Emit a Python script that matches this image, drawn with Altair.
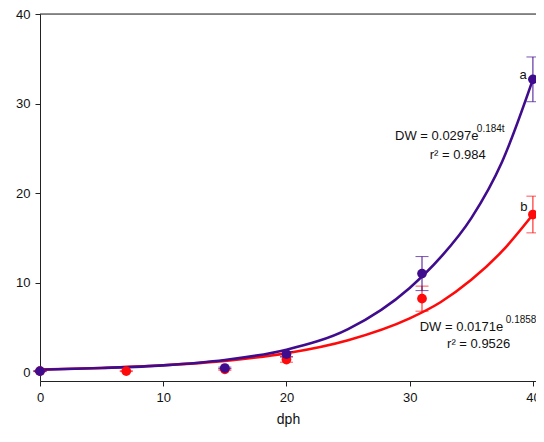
import altair as alt
import pandas as pd

FONT = "Liberation Sans"
PURPLE = "#400C8E"
RED = "#FF0A0A"

# measured points
purple_days = [0, 15, 20, 31, 40]
purple_dw = [0.1, 0.45, 2.0, 11.0, 32.7]
purple_err = [0.05, 0.1, 0.3, 1.9, 2.5]

red_days = [0, 7, 15, 20, 31, 40]
red_dw = [0.1, 0.1, 0.3, 1.4, 8.2, 17.6]
red_err = [0.05, 0.05, 0.1, 0.3, 1.4, 2.05]

# fitted curves
curve_t = [0, 5, 10, 15, 20, 25, 30, 32.5, 35, 37.5, 40]
purple_curve = [0.25, 0.45, 0.75, 1.35, 2.5, 4.8, 9.4, 12.8, 17.2, 23.5, 32.7]
red_curve = [0.28, 0.46, 0.76, 1.25, 2.1, 3.56, 6.0, 7.8, 10.3, 13.5, 17.6]

x_ticks = [0, 10, 20, 30, 40]
y_ticks = [0, 10, 20, 30, 40]

# annotations
main_labels = ["DW = 0.0297e", "r² = 0.984", "DW = 0.0171e", "r² = 0.9526"]
main_t = [32.2, 33.9, 34.2, 35.6]
main_v = [26.4, 24.2, 5.0, 3.1]
sup_labels = ["0.184t", "0.1858"]
sup_t = [35.45, 37.8]
sup_v = [27.2, 5.8]
letter_labels = ["a", "b"]
letter_t = [39.5, 39.55]
letter_v = [33.2, 18.4]

pdf = pd.DataFrame({"t": purple_days, "v": purple_dw, "lo": [a - b for a, b in zip(purple_dw, purple_err)],
                    "hi": [a + b for a, b in zip(purple_dw, purple_err)]})
rdf = pd.DataFrame({"t": red_days, "v": red_dw, "lo": [a - b for a, b in zip(red_dw, red_err)],
                    "hi": [a + b for a, b in zip(red_dw, red_err)]})
pc = pd.DataFrame({"t": curve_t, "v": purple_curve})
rc = pd.DataFrame({"t": curve_t, "v": red_curve})
mdf = pd.DataFrame({"t": main_t, "v": main_v, "label": main_labels})
sdf = pd.DataFrame({"t": sup_t, "v": sup_v, "label": sup_labels})
ldf = pd.DataFrame({"t": letter_t, "v": letter_v, "label": letter_labels})

xs = alt.Scale(domain=[0, 40.25], nice=False, zero=False)
ys = alt.Scale(domain=[-1, 40], nice=False, zero=False)

X = alt.X("t:Q", scale=xs, title="dph",
          axis=alt.Axis(values=x_ticks, grid=False, tickSize=5, labelPadding=5,
                        labelFontSize=13, titleFontSize=14, titlePadding=8,
                        labelFont=FONT, titleFont=FONT, titleFontWeight="normal",
                        domainColor="#222", tickColor="#222", labelColor="#111",
                        titleColor="#111", labelFlush=False))
Y = alt.Y("v:Q", scale=ys, title=None,
          axis=alt.Axis(values=y_ticks, grid=False, tickSize=5, labelPadding=5,
                        labelFontSize=13, labelFont=FONT, domainColor="#222",
                        tickColor="#222", labelColor="#111"))


def layers(df, curve, color):
    line = alt.Chart(curve).mark_line(color=color, strokeWidth=2.6, interpolate="monotone").encode(x=X, y=Y)
    err = alt.Chart(df).mark_rule(color=color, strokeWidth=1).encode(x="t:Q", y="lo:Q", y2="hi:Q")
    cap_lo = alt.Chart(df).mark_tick(color=color, orient="horizontal", size=13, thickness=1).encode(x="t:Q", y="lo:Q")
    cap_hi = alt.Chart(df).mark_tick(color=color, orient="horizontal", size=13, thickness=1).encode(x="t:Q", y="hi:Q")
    pts = alt.Chart(df).mark_circle(color=color, size=95, opacity=1).encode(x="t:Q", y="v:Q")
    return [line, err, cap_lo, cap_hi, pts]


top = alt.Chart(pd.DataFrame({"v": [40]})).mark_rule(color="#222", strokeWidth=1).encode(
    y="v:Q", x=alt.value(0), x2=alt.value(496))

main_text = alt.Chart(mdf).mark_text(font=FONT, fontSize=13, color="#111", align="center", baseline="middle").encode(
    x="t:Q", y="v:Q", text="label:N")
sup_text = alt.Chart(sdf).mark_text(font=FONT, fontSize=10, color="#111", align="left", baseline="middle").encode(
    x="t:Q", y="v:Q", text="label:N")
letter_text = alt.Chart(ldf).mark_text(font=FONT, fontSize=13, color="#111", align="right", baseline="middle").encode(
    x="t:Q", y="v:Q", text="label:N")

red_layers = layers(rdf, rc, RED)
purple_layers = layers(pdf, pc, PURPLE)

chart = alt.layer(
    red_layers[0], purple_layers[0],
    *red_layers[1:], *purple_layers[1:],
    top, main_text, sup_text, letter_text,
).properties(
    width=496, height=367,
    autosize=alt.AutoSizeParams(type="none"),
    padding={"left": 32, "top": 6, "right": 0, "bottom": 50},
).configure_view(stroke=None).configure(background="white")

chart.save("out.html", embed_options={"renderer": "svg", "actions": False})
